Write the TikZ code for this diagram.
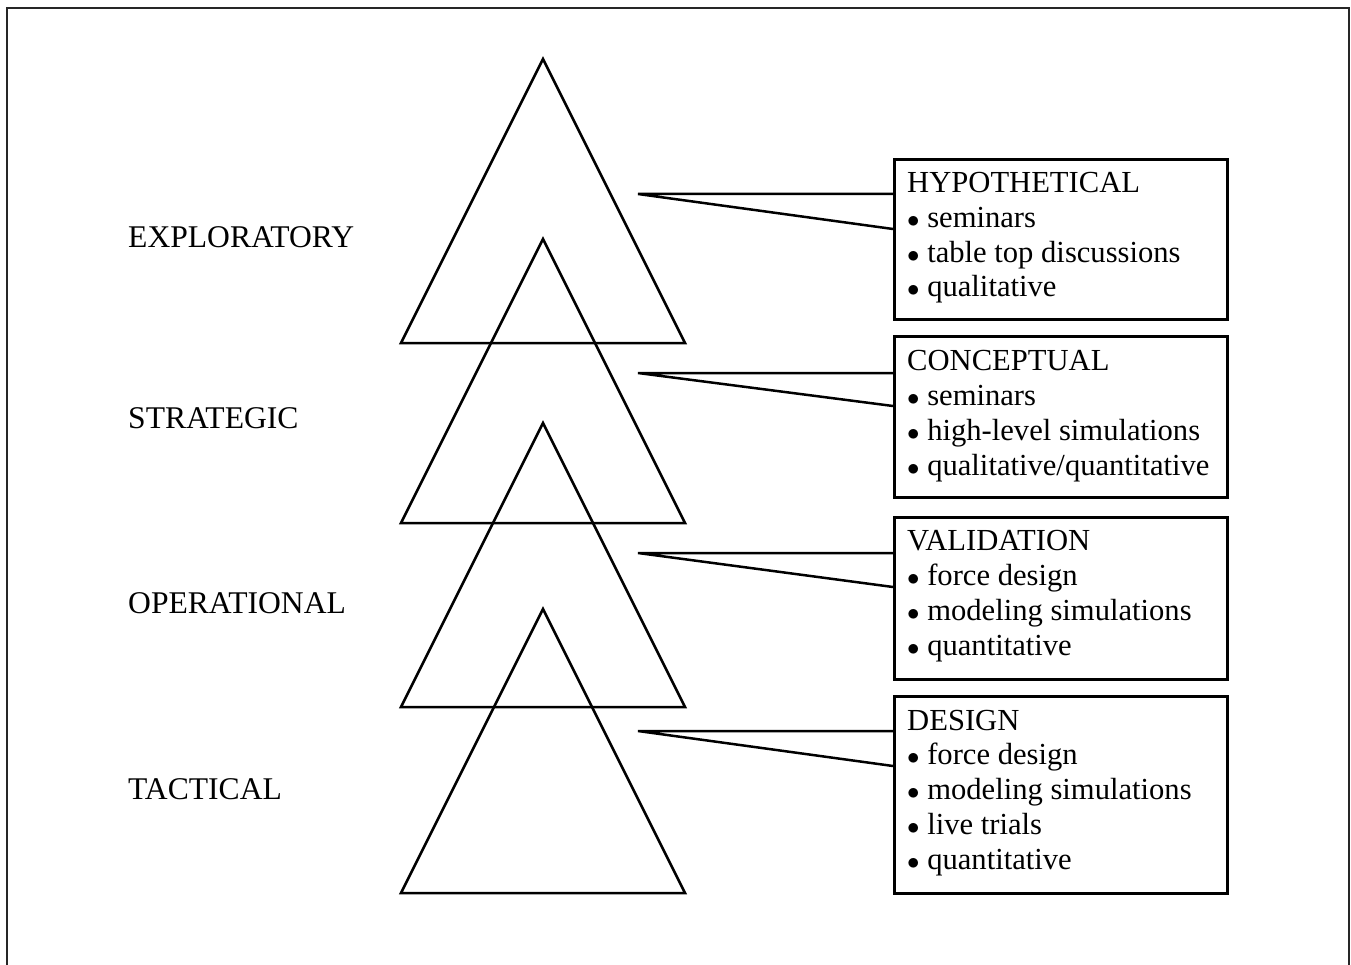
\documentclass[tikz,border=0pt]{standalone}
\usepackage{fontspec}
\setmainfont{Liberation Serif}
\usetikzlibrary{calc}
\begin{document}
\begin{tikzpicture}[x=1pt,y=-1pt,
  tri/.style={draw, line width=2.5pt, line join=miter},
  box/.style={draw, line width=3pt, anchor=north west, minimum width=333pt, inner sep=0pt},
  lbl/.style={anchor=base west, inner sep=0pt, font=\fontsize{31.6}{34.7}\selectfont},
  txt/.style={anchor=base west, inner sep=0pt, align=left, font=\fontsize{30.6}{34.7}\selectfont},
  callout/.style={line width=2.5pt, line join=miter}]
\useasboundingbox (0,0) rectangle (1351,965);
% outer frame
\draw[line width=2pt, draw=black!85] (6.5,965) -- (6.5,8) -- (1348.5,8) -- (1348.5,965);
% triangles
\foreach \a in {59,239,423,609}
  \draw[tri] (543,\a) -- (401,\a+284) -- (685,\a+284) -- cycle;
% callout tips
\coordinate (c1) at (638,194);
\coordinate (c2) at (638,373);
\coordinate (c3) at (638,553);
\coordinate (c4) at (638,731);
% boxes
\node[box, minimum height=160pt] (b1) at (893,158) {};
\node[box, minimum height=161pt] (b2) at (893,335) {};
\node[box, minimum height=162pt] (b3) at (893,516) {};
\node[box, minimum height=197pt] (b4) at (893,695) {};
% connectors
\foreach \i in {1,2,3,4}
  \draw[callout] (c\i -| b\i.west) -- (c\i) -- ($(b\i.north west)+(0,71)$);
% box texts (anchored at the baseline of the last line)
\node[txt] (t1) at ($(b1.north west)+(14,139)$) {HYPOTHETICAL\\$\bullet$ seminars\\$\bullet$ table top discussions\\$\bullet$ qualitative};
\node[txt] (t2) at ($(b2.north west)+(14,140)$) {CONCEPTUAL\\$\bullet$ seminars\\$\bullet$ high-level simulations\\$\bullet$ qualitative/quantitative};
\node[txt] (t3) at ($(b3.north west)+(14,139)$) {VALIDATION\\$\bullet$ force design\\$\bullet$ modeling simulations\\$\bullet$ quantitative};
\node[txt] (t4) at ($(b4.north west)+(14,174)$) {DESIGN\\$\bullet$ force design\\$\bullet$ modeling simulations\\$\bullet$ live trials\\$\bullet$ quantitative};
% left labels
\node[lbl] (l1) at (128,248) {EXPLORATORY};
\node[lbl] (l2) at (128,428) {STRATEGIC};
\node[lbl] (l3) at (128,613) {OPERATIONAL};
\node[lbl] (l4) at (128,799) {TACTICAL};
\end{tikzpicture}
\end{document}
